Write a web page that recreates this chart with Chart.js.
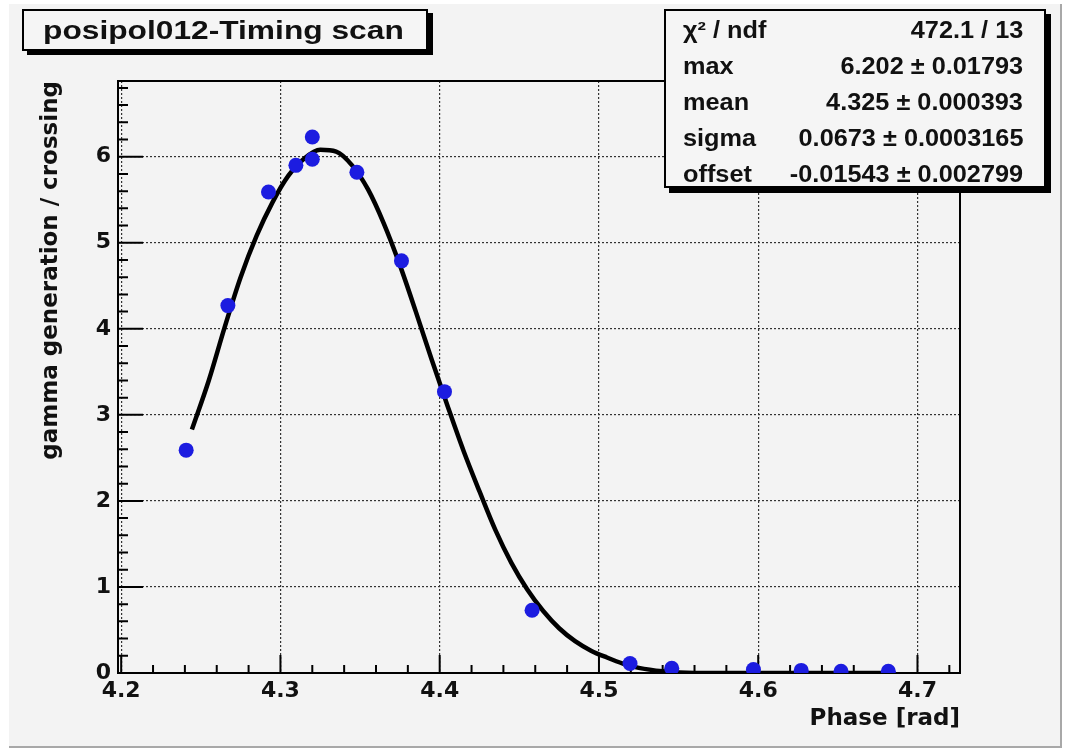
<!DOCTYPE html>
<html lang="en">

<head>
    <meta charset="UTF-8">
    <title>posipol012-Timing scan</title>
    <script src="https://cdn.jsdelivr.net/npm/chart.js"></script>
    <style>
        body { margin: 0; background: #fff; overflow: hidden; }
        #pad { position: absolute; left: 9px; top: 4px; width: 1051px; height: 742px; background: #f3f3f3;
               border-right: 2px solid #a8a8a8; border-bottom: 2px solid #a8a8a8; }
        #wrap { position: absolute; left: 0; top: 0; width: 1072px; height: 750px; }
        .box { position: absolute; border: 2px solid #000; background: #f5f5f5; font-family: "Liberation Sans", Arial, sans-serif;
               font-weight: bold; color: #111; }
        #titlebox { left: 22px; top: 9px; width: 402px; height: 38px; box-shadow: 5px 4px 0 #000; }
        #titlebox span { position: absolute; left: 19px; top: 0; line-height: 38px; font-size: 26px;
                         transform: scaleX(1.22); transform-origin: left center; white-space: nowrap; }
        #stats { left: 664px; top: 9px; width: 378px; height: 175px; box-shadow: 5px 5px 0 #000; }
        #stats .row { position: absolute; left: 17px; right: 21px; height: 36px; line-height: 36px; font-size: 23px; }
        #stats .lab { position: absolute; left: 0; transform: scaleX(1.1); transform-origin: left center; white-space: nowrap; }
        #stats .val { position: absolute; right: 0; transform: scaleX(1.1); transform-origin: right center; white-space: nowrap; }
    </style>
</head>

<body>
    <div id="pad"></div>
    <div id="wrap"><canvas id="chart"></canvas></div>
    <div class="box" id="titlebox"><span>posipol012-Timing scan</span></div>
    <div class="box" id="stats">
        <div class="row" style="top:1px"><span class="lab">χ² / ndf</span><span class="val">472.1 / 13</span></div>
        <div class="row" style="top:37px"><span class="lab">max</span><span class="val">6.202 ± 0.01793</span></div>
        <div class="row" style="top:73px"><span class="lab">mean</span><span class="val">4.325 ± 0.000393</span></div>
        <div class="row" style="top:109px"><span class="lab">sigma</span><span class="val">0.0673 ± 0.0003165</span></div>
        <div class="row" style="top:145px"><span class="lab">offset</span><span class="val">-0.01543 ± 0.002799</span></div>
    </div>

    <script>
        // measured points
        const phase = [4.2408, 4.267, 4.2925, 4.3097, 4.3200, 4.3200, 4.348, 4.376, 4.403, 4.458,
                       4.5195, 4.5457, 4.597, 4.627, 4.652, 4.6817];
        const gamma = [2.59, 4.27, 5.59, 5.90, 6.23, 5.97, 5.82, 4.79, 3.27, 0.73,
                       0.11, 0.055, 0.04, 0.03, 0.02, 0.02];

        // gaussian fit curve
        const fitPhase = [4.2444, 4.255, 4.265, 4.275, 4.285, 4.295, 4.305, 4.315, 4.325, 4.335,
                          4.345, 4.355, 4.365, 4.375, 4.385, 4.395, 4.405, 4.415, 4.425, 4.435,
                          4.445, 4.455, 4.465, 4.475, 4.485, 4.495, 4.505, 4.515, 4.525, 4.54,
                          4.56, 4.6827];
        const fitGamma = [2.83, 3.40, 4.02, 4.60, 5.08, 5.47, 5.78, 5.98, 6.08, 6.06,
                          5.90, 5.62, 5.22, 4.74, 4.20, 3.64, 3.10, 2.58, 2.11, 1.66,
                          1.28, 0.97, 0.72, 0.52, 0.37, 0.26, 0.18, 0.11, 0.06, 0.02,
                          0, 0];

        // axis ranges and tick labels
        const xMin = 4.198, xMax = 4.7267;
        const yMin = 0, yMax = 6.88;
        const xTicks = [4.2, 4.3, 4.4, 4.5, 4.6, 4.7];
        const yTicks = [0, 1, 2, 3, 4, 5, 6];

        const axisFont = { family: "DejaVu Sans", weight: "bold", size: 22 };
        const titleFont = { family: "DejaVu Sans", weight: "bold", size: 23 };

        // ROOT style frame with inside tick marks
        const rootFrame = {
            id: "rootFrame",
            beforeDatasetsDraw(chart) {
                const { ctx, chartArea: a, scales: { x, y } } = chart;
                ctx.save();
                ctx.strokeStyle = "#000";
                ctx.lineWidth = 2;
                ctx.beginPath();
                for (let i = 0; i * 0.2 <= yMax; i++) {
                    const py = y.getPixelForValue(i * 0.2);
                    const len = i % 5 === 0 ? 25 : 10;
                    ctx.moveTo(a.left, py);
                    ctx.lineTo(a.left + len, py);
                }
                for (let i = 0; 4.2 + i * 0.02 <= xMax; i++) {
                    const px = x.getPixelForValue(4.2 + i * 0.02);
                    const len = i % 5 === 0 ? 18 : 8;
                    ctx.moveTo(px, a.bottom);
                    ctx.lineTo(px, a.bottom - len);
                }
                ctx.stroke();
                ctx.strokeRect(a.left, a.top, a.right - a.left, a.bottom - a.top);
                ctx.restore();
            }
        };

        const gridOpts = { color: "#333", lineWidth: 1.2, drawTicks: false, borderDash: [2, 2] };

        new Chart(document.getElementById("chart"), {
            type: "scatter",
            data: {
                datasets: [{
                    data: phase.map((v, i) => ({ x: v, y: gamma[i] })),
                    backgroundColor: "#1c1ce0",
                    borderWidth: 0,
                    pointRadius: 7.5,
                    order: 0
                }, {
                    data: fitPhase.map((v, i) => ({ x: v, y: fitGamma[i] })),
                    showLine: true,
                    borderColor: "#000",
                    borderWidth: 4.5,
                    pointRadius: 0,
                    cubicInterpolationMode: "monotone",
                    order: 1
                }]
            },
            options: {
                responsive: true,
                maintainAspectRatio: false,
                animation: false,
                layout: { padding: { top: 81, right: 112, left: 0, bottom: 0 } },
                plugins: { legend: { display: false }, tooltip: { enabled: false } },
                scales: {
                    x: {
                        type: "linear", min: xMin, max: xMax,
                        afterBuildTicks: s => { s.ticks = xTicks.map(v => ({ value: v })); },
                        afterFit: s => { s.height = 77; },
                        grid: gridOpts,
                        border: { display: false, dash: [2, 2] },
                        ticks: { color: "#111", font: axisFont, padding: 5, callback: v => v.toFixed(1) },
                        title: { display: true, text: "Phase [rad]", align: "end", color: "#111", font: titleFont,
                                 padding: { top: 0, bottom: 17 } }
                    },
                    y: {
                        type: "linear", min: yMin, max: yMax,
                        afterBuildTicks: s => { s.ticks = yTicks.map(v => ({ value: v })); },
                        afterFit: s => { s.width = 118; },
                        grid: gridOpts,
                        border: { display: false, dash: [2, 2] },
                        ticks: { color: "#111", font: axisFont, padding: 7, callback: v => String(v) },
                        title: { display: true, text: "gamma generation / crossing", align: "end", color: "#111",
                                 font: titleFont, padding: { top: 37, bottom: 0 } }
                    }
                }
            },
            plugins: [rootFrame]
        });
    </script>
</body>

</html>
